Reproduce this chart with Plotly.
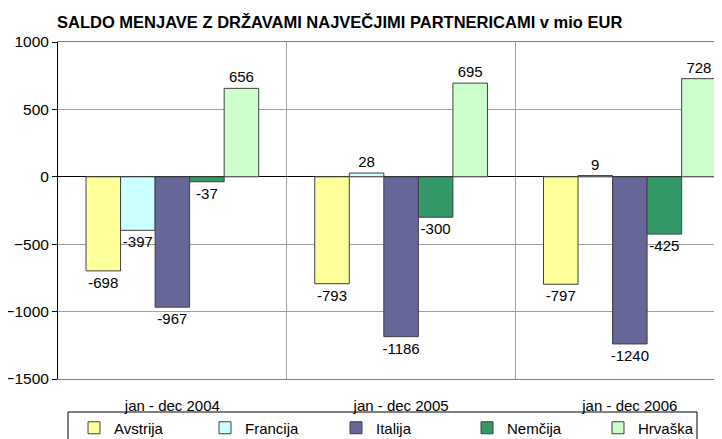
import plotly.graph_objects as go

categories = ["jan - dec 2004", "jan - dec 2005", "jan - dec 2006"]
series_names = ["Avstrija", "Francija", "Italija", "Nemčija", "Hrvaška"]
avstrija = [-698, -793, -797]
francija = [-397, 28, 9]
italija = [-967, -1186, -1240]
nemcija = [-37, -300, -425]
hrvaska = [656, 695, 728]
colors = ["#FFFF99", "#CCFFFF", "#666699", "#339966", "#CCFFCC"]
y_ticks = [-1500, -1000, -500, 0, 500, 1000]

FONT = "Liberation Sans, Arial, sans-serif"
# the page body has an 8px margin, so the figure is sized to fill the rest of the window
OFF = 8
W, H = 722 - OFF, 439 - OFF
L, R, T, B = 58 - OFF, 0, 42 - OFF, 439 - 379
PW, PH = W - L - R, H - T - B

fig = go.Figure()
for name, vals, col in zip(series_names, [avstrija, francija, italija, nemcija, hrvaska], colors):
    fig.add_trace(go.Bar(
        x=categories, y=vals, name=name,
        marker=dict(color=col, line=dict(color="#404040", width=1)),
        text=[str(v) for v in vals], textposition="outside",
        textfont=dict(family=FONT, size=15, color="black"),
        constraintext="none", cliponaxis=False,
    ))

fig.update_layout(
    width=W, height=H,
    margin=dict(l=L, r=R, t=T, b=B, autoexpand=False),
    paper_bgcolor="white", plot_bgcolor="white",
    barmode="group", bargap=0.245, bargroupgap=0,
    font=dict(family=FONT, size=15, color="black"),
    title=dict(
        text="<b>SALDO MENJAVE Z DRŽAVAMI NAJVEČJIMI PARTNERICAMI v mio EUR</b>",
        font=dict(family=FONT, size=16.5, color="black"),
        xref="container", yref="container",
        x=(57 - OFF) / W, xanchor="left", y=1 - (22 - OFF) / H, yanchor="middle",
    ),
    xaxis=dict(
        type="category", range=[-0.5, 2.403], automargin=False,
        tickson="boundaries", showgrid=True, gridcolor="#A0A0A0", gridwidth=1,
        showline=True, linecolor="#4E9A74", linewidth=1, mirror=True,
        ticks="", ticklabelstandoff=13,
        tickfont=dict(family=FONT, size=15),
    ),
    yaxis=dict(
        range=[-1500, 1000], tickvals=y_ticks, automargin=False,
        showgrid=True, gridcolor="#A0A0A0", gridwidth=1,
        zeroline=True, zerolinecolor="black", zerolinewidth=1,
        showline=True, linecolor="black", linewidth=1,
        ticks="outside", ticklen=5, tickcolor="black",
        tickfont=dict(family=FONT, size=15.5),
    ),
    legend=dict(
        orientation="h", xref="container", yref="container",
        x=(74 - OFF) / W, xanchor="left", y=1 - (428 - OFF) / H, yanchor="middle",
        entrywidth=86, entrywidthmode="pixels", itemwidth=30,
        font=dict(family=FONT, size=15), bgcolor="rgba(0,0,0,0)",
        traceorder="normal",
    ),
    showlegend=True,
)

# legend frame (bottom edge falls below the visible page)
fig.add_shape(type="rect", xref="paper", yref="paper",
              x0=(68 - 58) / PW, x1=(697 - 58) / PW,
              y0=-(460 - 379) / PH, y1=-(412 - 379) / PH,
              line=dict(color="black", width=1), fillcolor="rgba(0,0,0,0)",
              layer="above")

fig.write_html("out.html")
